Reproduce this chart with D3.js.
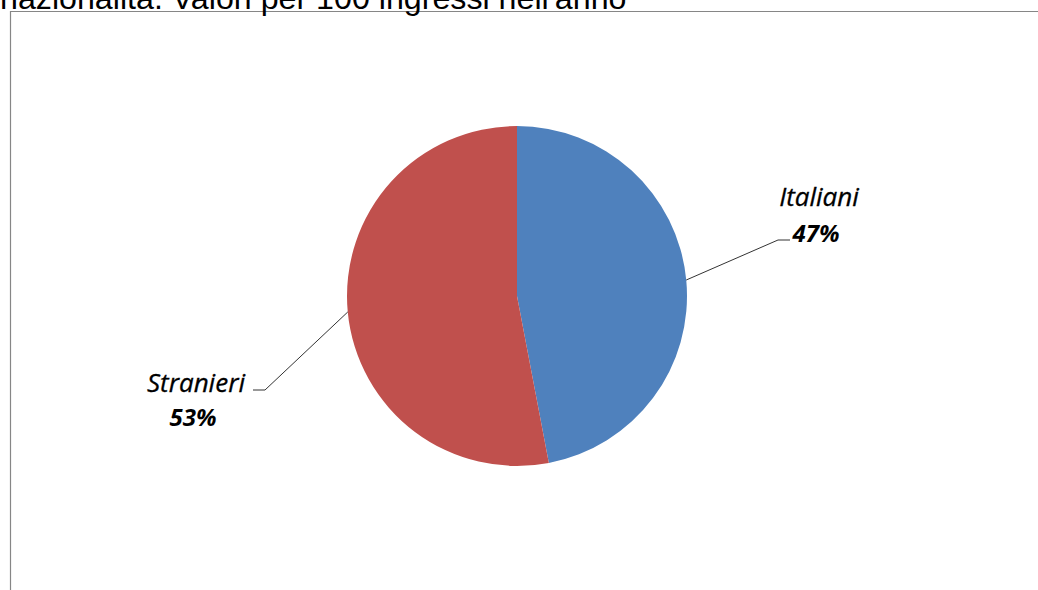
<!DOCTYPE html>
<html>
<head>
<meta charset="utf-8">
<script src="https://cdn.jsdelivr.net/npm/d3@7"></script>
<style>
  html, body { margin: 0; padding: 0; background: #fff; overflow: hidden; }
  svg { display: block; }
</style>
</head>
<body>
<svg id="chart" width="1038" height="590"></svg>
<script>
const titleText = "nazionalità. Valori per 100 ingressi nell'anno";
const categories = ["Italiani", "Stranieri"];
const values = [47, 53];
const colors = ["#4F81BD", "#C0504D"];

const svg = d3.select("#chart");
const W = 1038, H = 590;

// frame
svg.append("path")
  .attr("d", `M10.5,${H + 2} V11.5 H${W + 2}`)
  .attr("fill", "none")
  .attr("stroke", "#868686")
  .attr("stroke-width", 1.2);

// title (cut off at top, as in the reference)
svg.append("text")
  .attr("x", 0)
  .attr("y", 9)
  .attr("font-family", "'Liberation Sans', Arial, sans-serif")
  .attr("font-size", 32.2)
  .attr("fill", "#000")
  .text(titleText);

const cx = 517, cy = 296, r = 170;
const data = categories.map((c, i) => ({ name: c, value: values[i], color: colors[i] }));
const pie = d3.pie().sort(null).value(d => d.value).startAngle(0).endAngle(2 * Math.PI);
const arcs = pie(data);
const arc = d3.arc().innerRadius(0).outerRadius(r);

const g = svg.append("g").attr("transform", `translate(${cx},${cy})`);
g.selectAll("path.slice")
  .data(arcs)
  .join("path")
  .attr("class", "slice")
  .attr("d", arc)
  .attr("fill", d => d.data.color);

const total = d3.sum(values);
const fmt = d => Math.round(d.value / total * 100) + "%";

// label layout (positions of the label boxes)
const labelLayout = {
  "Italiani": { elbow: [778, 240], end: [790, 240], tx: 819, ny: 206, py: 242 },
  "Stranieri": { elbow: [265, 390], end: [253, 390], tx: 196, ny: 392, py: 426 }
};

arcs.forEach(a => {
  const L = labelLayout[a.data.name];
  const mid = (a.startAngle + a.endAngle) / 2;
  const px = cx + r * Math.sin(mid);
  const py = cy - r * Math.cos(mid);
  svg.append("polyline")
    .attr("points", [[px, py], L.elbow, L.end].map(p => p.join(",")).join(" "))
    .attr("fill", "none")
    .attr("stroke", "#333")
    .attr("stroke-width", 1);
  svg.append("text")
    .attr("x", L.tx).attr("y", L.ny)
    .attr("text-anchor", "middle")
    .attr("font-family", "'Open Sans', sans-serif")
    .attr("font-style", "italic")
    .attr("font-size", 26)
    .attr("fill", "#000")
    .attr("stroke", "#000")
    .attr("stroke-width", 0.3)
    .text(a.data.name);
  svg.append("text")
    .attr("x", L.tx - 3).attr("y", L.py)
    .attr("text-anchor", "middle")
    .attr("font-family", "'Open Sans', sans-serif")
    .attr("font-style", "italic")
    .attr("font-weight", "bold")
    .attr("font-size", 24)
    .attr("fill", "#000")
    .text(fmt(a.data));
});
</script>
</body>
</html>
